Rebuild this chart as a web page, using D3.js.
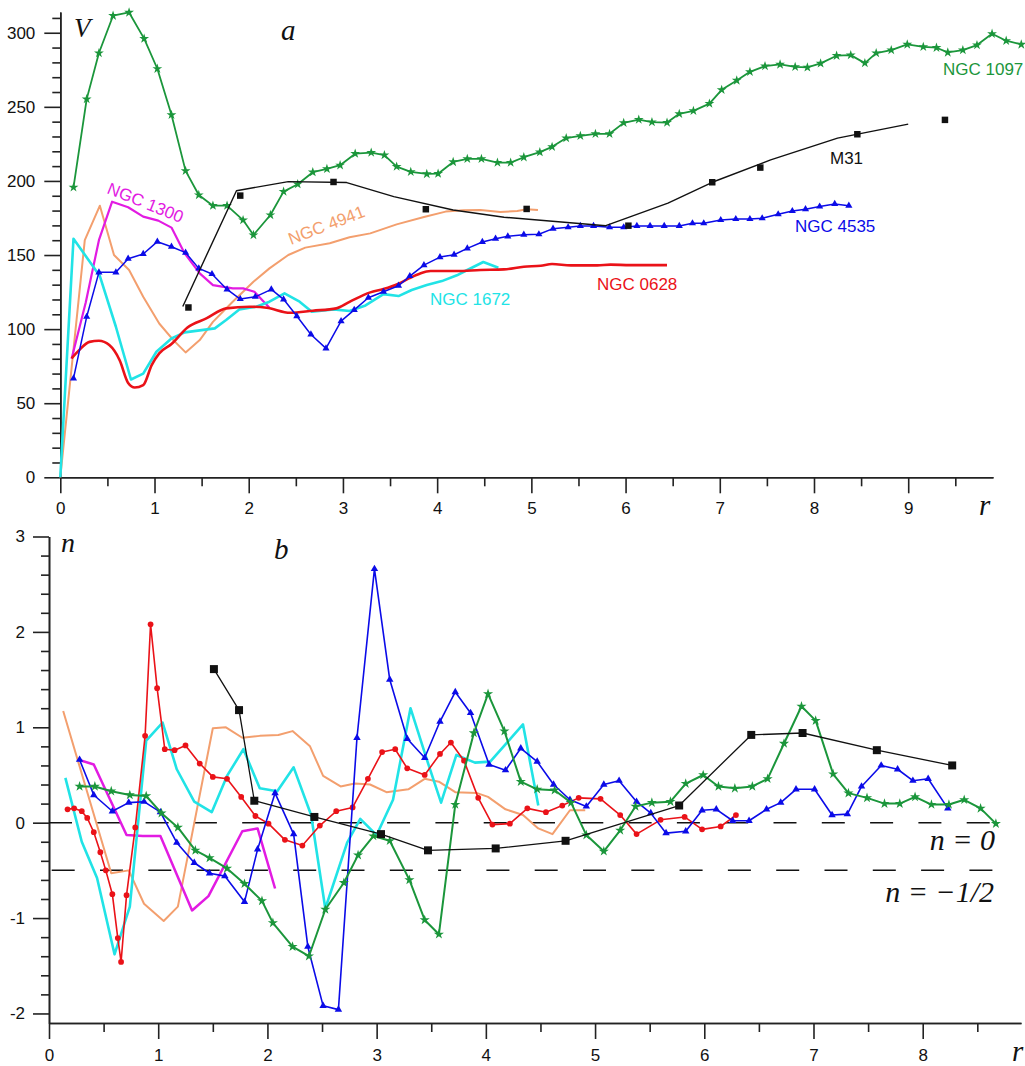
<!DOCTYPE html>
<html><head><meta charset="utf-8">
<script src="https://cdn.jsdelivr.net/npm/d3@7"></script>
<style>body{margin:0;background:#fff}svg{display:block}</style>
</head><body>
<script>
// ---------- Panel a : rotation curves V(r) ----------
const a_ngc1097 = [[0.14,195.7],[0.28,255.2],[0.41,286.3],[0.56,311.5],[0.73,313.7],[0.89,296],[1.03,275.7],[1.18,244.6],[1.33,206.8],[1.47,190.5],[1.62,183.3],[1.77,183.3],[1.94,173.6],[2.05,163.5],[2.23,177],[2.37,192.8],[2.52,197.8],[2.68,205.9],[2.83,208.1],[2.97,210.6],[3.13,218.4],[3.30,219.1],[3.44,217.4],[3.57,209.7],[3.72,206.1],[3.89,204.7],[4.01,204.9],[4.17,212.8],[4.32,214.9],[4.47,214.9],[4.64,212.4],[4.78,212.4],[4.92,216],[5.09,219.4],[5.22,223],[5.37,228.9],[5.52,230.4],[5.68,231.8],[5.83,231.8],[5.98,239.2],[6.14,241.4],[6.28,239.7],[6.44,239.4],[6.57,245.3],[6.72,247.3],[6.89,252.2],[7.02,261.5],[7.18,267.8],[7.32,273.6],[7.48,277.5],[7.64,278.6],[7.80,277],[7.93,276.6],[8.07,279.3],[8.24,284.5],[8.39,284.9],[8.54,279.5],[8.66,286.3],[8.82,288.3],[8.99,292.1],[9.16,290.5],[9.30,289.9],[9.42,286.7],[9.58,288.3],[9.73,291.7],[9.89,299.3],[10.04,294.6],[10.20,292.1]];
const a_m31_line = [[1.30,115.3],[1.87,193.4],[2.42,199.5],[3.04,198.9],[3.54,189.4],[4.17,180.4],[4.71,175.5],[5.79,169.8],[6.45,185],[6.92,199.1],[7.54,214.2],[8.25,228.9],[9.00,238.3]];
const a_m31_pts = [[1.36,114.6],[1.91,190.1],[2.90,199.3],[3.88,180.9],[4.95,181.1],[6.03,169.8],[6.92,199.1],[7.43,209],[8.46,231.5],[9.39,241.2]];
const a_ngc4535 = [[0.14,66.7],[0.28,108.3],[0.41,138.3],[0.59,138.3],[0.72,147.5],[0.88,150.7],[1.03,159],[1.18,155.6],[1.33,151.6],[1.47,141],[1.61,137.2],[1.77,126.8],[1.91,120.3],[2.07,121.8],[2.24,126.8],[2.37,120.1],[2.51,108.8],[2.66,96.4],[2.82,87],[2.98,105.4],[3.12,113],[3.27,121.2],[3.43,125.2],[3.59,129.3],[3.71,135.8],[3.86,143.2],[4.03,148.6],[4.18,150.2],[4.32,154.5],[4.48,158.8],[4.62,161],[4.75,162.6],[4.92,163.7],[5.08,164],[5.23,167.8],[5.39,168.7],[5.52,169.6],[5.66,169.6],[5.83,168.7],[5.98,168.7],[6.12,169.6],[6.26,169.6],[6.41,169.6],[6.57,169.6],[6.71,171.4],[6.83,171.4],[7.01,173.6],[7.17,174.3],[7.32,174.3],[7.45,174.8],[7.62,177.5],[7.77,179.7],[7.91,180.9],[8.06,182.7],[8.22,184.5],[8.37,183.3]];
const a_ngc0628 = [[0.12,80.2],[0.20,85.8],[0.31,91.4],[0.41,92.1],[0.52,89.2],[0.63,79],[0.72,63.7],[0.79,60.6],[0.88,62.2],[0.97,75.7],[1.05,83.6],[1.18,89.9],[1.35,101.1],[1.55,107.2],[1.76,114],[2.01,115.1],[2.19,114.4],[2.44,111],[2.68,112.4],[2.93,114],[3.07,118.4],[3.29,124.8],[3.43,127],[3.59,130.6],[3.70,134.2],[3.82,137.6],[3.93,139.2],[4.21,139.2],[4.46,139.9],[4.71,140.3],[4.92,142.1],[5.10,142.8],[5.22,143.9],[5.42,143],[5.70,143],[5.84,143.5],[6.05,143.2],[6.44,143.2]];
const a_ngc1672 = [[0,0],[0.14,161],[0.42,135.8],[0.59,101.6],[0.75,66],[0.88,70],[1.02,84.7],[1.18,93.7],[1.32,97.8],[1.64,100.5],[1.76,106.1],[1.90,113.3],[2.08,115.1],[2.22,118.5],[2.38,124.1],[2.54,118.5],[2.67,111.7],[2.90,113.3],[3.07,112.2],[3.24,116],[3.43,123.6],[3.59,122.3],[3.73,126.4],[3.89,129.7],[4.05,132.4],[4.21,136.3],[4.32,139.9],[4.49,145.3],[4.65,141.4]];
const a_ngc4941 = [[0,0],[0.26,160.1],[0.42,183.3],[0.57,150],[0.73,139.9],[0.88,121.8],[1.05,103.8],[1.20,92.6],[1.33,84.3],[1.48,92.6],[1.62,104.9],[1.83,118.5],[2.05,132],[2.22,141],[2.42,150],[2.60,155],[2.86,158],[3.07,162],[3.29,164.6],[3.57,170.7],[3.86,175.7],[4.09,179.3],[4.28,180.2],[4.46,180.4],[4.67,179.1],[4.85,179.7],[4.95,180.9],[5.07,180.4]];
const a_ngc1300 = [[0.12,80],[0.27,118],[0.41,160],[0.55,186],[0.72,182.2],[0.88,175.9],[1.04,173.2],[1.18,168.5],[1.32,151.1],[1.48,137.6],[1.62,129.7],[1.83,127.5],[1.94,127.5],[2.06,125.2],[2.22,114.4]];

// ---------- Panel b : n(r) ----------
const b_ngc0628 = [[0.17,0.14],[0.23,0.15],[0.30,0.12],[0.35,0.05],[0.41,-0.10],[0.47,-0.31],[0.52,-0.50],[0.58,-0.75],[0.63,-1.21],[0.66,-1.46],[0.71,-0.76],[0.79,-0.05],[0.88,0.91],[0.93,2.08],[0.99,1.41],[1.06,0.77],[1.15,0.76],[1.25,0.81],[1.38,0.62],[1.50,0.48],[1.63,0.46],[1.76,0.27],[1.89,0.07],[2.01,-0.01],[2.16,-0.18],[2.32,-0.24],[2.48,-0.03],[2.63,0.12],[2.78,0.16],[2.92,0.46],[3.05,0.74],[3.17,0.77],[3.28,0.57],[3.44,0.50],[3.58,0.72],[3.68,0.84],[3.80,0.65],[3.93,0.26],[4.06,-0.02],[4.22,-0.01],[4.38,0.15],[4.55,0.11],[4.70,0.18],[4.85,0.26],[5.05,0.25],[5.23,0.08],[5.38,-0.12],[5.60,0.03],[5.82,0.06],[5.98,-0.07],[6.15,-0.04],[6.29,0.08]];
const b_ngc4535 = [[0.28,0.66],[0.41,0.29],[0.58,0.12],[0.73,0.21],[0.87,0.22],[1.02,0.11],[1.17,-0.21],[1.33,-0.42],[1.47,-0.53],[1.61,-0.56],[1.79,-0.83],[1.91,-0.28],[2.07,0.31],[2.24,-0.12],[2.37,-1.30],[2.51,-1.92],[2.65,-1.96],[2.82,0.89],[2.98,2.66],[3.12,1.50],[3.28,0.88],[3.44,0.68],[3.58,1.06],[3.72,1.37],[3.86,1.15],[4.03,0.61],[4.18,0.55],[4.32,0.78],[4.47,0.64],[4.62,0.40],[4.77,0.24],[4.92,0.17],[5.08,0.40],[5.22,0.44],[5.38,0.22],[5.51,0.10],[5.65,-0.11],[5.83,-0.09],[5.98,0.13],[6.11,0.14],[6.26,0.02],[6.41,0.02],[6.57,0.14],[6.70,0.21],[6.84,0.35],[7.01,0.35],[7.17,0.08],[7.31,0.09],[7.44,0.38],[7.62,0.60],[7.77,0.56],[7.91,0.44],[8.05,0.46],[8.23,0.15]];
const b_ngc1097 = [[0.28,0.38],[0.42,0.38],[0.57,0.33],[0.74,0.29],[0.89,0.28],[1.03,0.10],[1.18,-0.05],[1.34,-0.29],[1.47,-0.37],[1.63,-0.48],[1.79,-0.64],[1.95,-0.82],[2.05,-1.05],[2.23,-1.30],[2.38,-1.40],[2.53,-0.91],[2.70,-0.63],[2.83,-0.34],[2.97,-0.14],[3.12,-0.19],[3.30,-0.60],[3.44,-1.02],[3.57,-1.17],[3.72,0.19],[3.89,0.94],[4.02,1.35],[4.17,0.96],[4.32,0.43],[4.47,0.35],[4.63,0.34],[4.78,0.21],[4.92,-0.13],[5.08,-0.30],[5.23,-0.08],[5.37,0.17],[5.52,0.21],[5.69,0.22],[5.83,0.41],[5.99,0.50],[6.13,0.38],[6.28,0.36],[6.44,0.38],[6.58,0.46],[6.73,0.83],[6.89,1.22],[7.02,1.07],[7.18,0.51],[7.32,0.31],[7.49,0.26],[7.65,0.20],[7.79,0.20],[7.93,0.27],[8.08,0.19],[8.24,0.19],[8.38,0.24],[8.53,0.15],[8.67,-0.01]];
const b_m31 = [[1.51,1.61],[1.74,1.18],[1.88,0.23],[2.43,0.06],[3.04,-0.12],[3.47,-0.29],[4.09,-0.27],[4.73,-0.19],[5.77,0.18],[6.43,0.92],[6.90,0.94],[7.58,0.76],[8.27,0.60]];
const b_ngc1672 = [[0.15,0.47],[0.30,-0.20],[0.44,-0.58],[0.60,-1.38],[0.74,-0.88],[0.89,0.86],[1.04,1.05],[1.17,0.56],[1.33,0.22],[1.49,0.11],[1.63,0.49],[1.78,0.77],[1.93,0.36],[2.09,0.33],[2.24,0.58],[2.40,0.08],[2.53,-0.90],[2.73,-0.21],[2.85,0.04],[3.00,-0.13],[3.15,0.24],[3.31,1.20],[3.46,0.66],[3.59,0.21],[3.73,0.71],[3.90,0.63],[4.04,0.64],[4.34,1.03],[4.48,0.18]];
const b_ngc4941 = [[0.13,1.17],[0.57,-0.53],[0.73,-0.50],[0.87,-0.85],[1.05,-1.03],[1.18,-0.88],[1.50,0.99],[1.62,1.00],[1.77,0.89],[1.93,0.91],[2.10,0.92],[2.23,0.96],[2.39,0.80],[2.51,0.49],[2.67,0.38],[2.80,0.41],[2.94,0.40],[3.09,0.32],[3.29,0.35],[3.44,0.46],[3.57,0.43],[3.72,0.32],[3.92,0.31],[4.02,0.27],[4.18,0.14],[4.34,0.08],[4.48,-0.06],[4.61,-0.12],[4.77,0.13],[4.91,0.13]];
const b_ngc1300 = [[0.27,0.66],[0.41,0.61],[0.71,-0.13],[0.86,-0.14],[1.02,-0.14],[1.31,-0.92],[1.46,-0.77],[1.77,-0.09],[1.91,-0.06],[2.07,-0.69]];

const refLevels = [0, -0.5];
const xTicksA = [0,1,2,3,4,5,6,7,8,9];
const yTicksA = [0,50,100,150,200,250,300];
const xTicksB = [0,1,2,3,4,5,6,7,8];
const yTicksB = [-2,-1,0,1,2,3];

const C = {green:"#1b963b", blue:"#0b0be8", red:"#ea1218", cyan:"#21e3e6", orange:"#f39f6e", magenta:"#e21be2", black:"#111"};

const W=1025,H=1066;
const svg=d3.select("body").append("svg").attr("width",W).attr("height",H)
  .style("font-family","'Liberation Sans',Arial,Helvetica,sans-serif");

const xA=d3.scaleLinear().domain([0,9.9]).range([60.3,993]);
const yA=d3.scaleLinear().domain([0,314]).range([477.3,12]);
const xB=d3.scaleLinear().domain([0,8.9]).range([49,1021]);
const yB=d3.scaleLinear().domain([-2.1,3]).range([1023,536.5]);

function range(a,b,s){const r=[];for(let v=a;v<=b+1e-9;v+=s)r.push(+v.toFixed(4));return r;}

function axes(x,y,xMaj,yMaj,xMinStep,yMinStep,xPad,yPad){
  const y0=y.range()[0], x0=x.range()[0];
  const xd=x.domain(), yd=y.domain();
  const g=svg.append("g");
  const xmin=range(xd[0],xd[1],xMinStep).filter(v=>!xMaj.includes(v));
  const ymin=range(Math.ceil(yd[0]/yMinStep)*yMinStep,yd[1],yMinStep).filter(v=>!yMaj.some(m=>Math.abs(m-v)<1e-6));
  g.append("g").attr("transform",`translate(0,${y0})`).call(d3.axisBottom(x).tickValues(xmin).tickSize(9).tickFormat("").tickSizeOuter(0));
  g.append("g").attr("transform",`translate(0,${y0})`).call(d3.axisBottom(x).tickValues(xMaj).tickSize(16).tickPadding(xPad).tickSizeOuter(0).tickFormat(d=>String(d)));
  g.append("g").attr("transform",`translate(${x0},0)`).call(d3.axisLeft(y).tickValues(ymin).tickSize(8).tickFormat("").tickSizeOuter(0));
  g.append("g").attr("transform",`translate(${x0},0)`).call(d3.axisLeft(y).tickValues(yMaj).tickSize(16).tickPadding(yPad).tickSizeOuter(0).tickFormat(d=>String(d)));
  g.selectAll("path.domain,line").attr("stroke","#222").attr("stroke-width",1.6);
  g.selectAll("text").attr("font-size",17).attr("fill","#111").attr("font-family","'Liberation Sans',Arial,sans-serif");
}
axes(xA,yA,xTicksA,yTicksA,0.5,10,9,9);
axes(xB,yB,xTicksB,yTicksB,0.5,0.2,10,8);

function line(x,y,data,color,w,curve){
  const l=d3.line().x(d=>x(d[0])).y(d=>y(d[1]));
  if(curve) l.curve(curve);
  svg.append("path").attr("d",l(data)).attr("fill","none").attr("stroke",color).attr("stroke-width",w).attr("stroke-linejoin","round");
}
function marks(x,y,data,color,type,size){
  svg.append("g").selectAll("path").data(data).join("path")
    .attr("transform",d=>`translate(${x(d[0])},${y(d[1])})`)
    .attr("d",d3.symbol().type(type).size(size)).attr("fill",color);
}

// ---- panel a ----
line(xA,yA,a_ngc4941,C.orange,2);
line(xA,yA,a_ngc1300,C.magenta,2.2);
line(xA,yA,a_ngc1672,C.cyan,2.6);
line(xA,yA,a_ngc0628,C.red,2.6,d3.curveMonotoneX);
line(xA,yA,a_ngc4535,C.blue,1.5);
marks(xA,yA,a_ngc4535,C.blue,d3.symbolTriangle,22);
line(xA,yA,a_ngc1097,C.green,1.8);
marks(xA,yA,a_ngc1097,C.green,d3.symbolStar,30);
line(xA,yA,a_m31_line,C.black,1.4);
marks(xA,yA,a_m31_pts,C.black,d3.symbolSquare,42);

// ---- panel b ----
refLevels.forEach((v,i)=>{
  svg.append("line").attr("x1",i?51.7:49).attr("x2",i?998:995).attr("y1",yB(v)).attr("y2",yB(v))
    .attr("stroke","#111").attr("stroke-width",1.5).attr("stroke-dasharray","23,25.3");
});
line(xB,yB,b_ngc4941,C.orange,2);
line(xB,yB,b_ngc1300,C.magenta,2.5);
line(xB,yB,b_ngc1672,C.cyan,2.6);
line(xB,yB,b_ngc0628,C.red,1.6);
marks(xB,yB,b_ngc0628,C.red,d3.symbolCircle,26);
line(xB,yB,b_ngc4535,C.blue,1.6);
marks(xB,yB,b_ngc4535,C.blue,d3.symbolTriangle,24);
line(xB,yB,b_ngc1097,C.green,2);
marks(xB,yB,b_ngc1097,C.green,d3.symbolStar,32);
line(xB,yB,b_m31,C.black,1.3);
marks(xB,yB,b_m31,C.black,d3.symbolSquare,64);

// ---- text ----
const serif="'Liberation Serif','Times New Roman',serif";
function it(x,y,t,size,anchor){svg.append("text").attr("x",x).attr("y",y).attr("font-family",serif).attr("font-style","italic").attr("font-size",size).attr("fill","#111").attr("text-anchor",anchor||"start").text(t);}
it(74,37,"V",27); it(281,40,"a",29); it(979,515,"r",29);
it(61,552,"n",28); it(274,559,"b",29); it(1012,1061,"r",29);
it(995,850,"n = 0",30,"end"); it(994,902,"n = \u22121/2",30,"end");

function lab(x,y,t,color,rot){
  const s=svg.append("text").attr("x",x).attr("y",y).attr("font-size",17).attr("fill",color).text(t);
  if(rot) s.attr("transform",`rotate(${rot},${x},${y})`);
}
lab(943,75,"NGC 1097",C.green);
lab(830,164,"M31",C.black);
lab(795,232,"NGC 4535",C.blue);
lab(597,290,"NGC 0628",C.red);
lab(430,305,"NGC 1672",C.cyan);
lab(291,245,"NGC 4941",C.orange,-21);
lab(106,193,"NGC 1300",C.magenta,22);
</script>
</body></html>
